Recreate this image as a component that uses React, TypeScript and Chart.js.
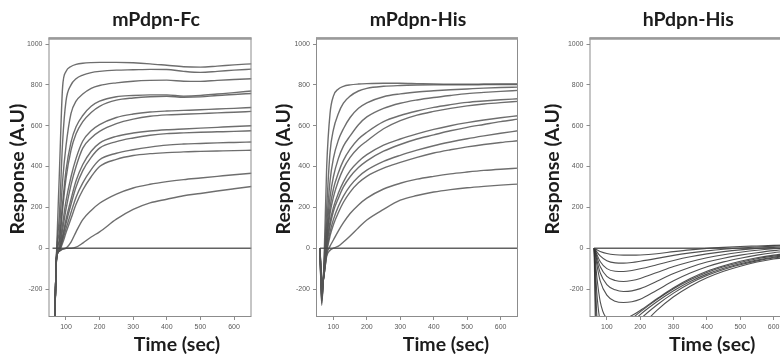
import React, { useEffect, useRef } from 'react';
import { Chart, registerables } from 'chart.js';

Chart.register(...registerables);

// ---------- text ----------
const PANEL_TITLES = ['mPdpn-Fc', 'mPdpn-His', 'hPdpn-His'];
const X_TITLE = 'Time (sec)';
const Y_TITLE = 'Response (A.U)';

// ---------- ticks ----------
const X_TICKS = [100, 200, 300, 400, 500, 600];
const Y_TICKS = [-200, 0, 200, 400, 600, 800, 1000];

// ---------- mPdpn-Fc ----------
const FC_TIME = [66, 72, 80, 90, 100, 115, 130, 150, 175, 200, 250, 300, 350, 400, 450, 500, 550, 600, 652];
const FC_CURVES = [
  [-400, -20, 350, 790, 865, 890, 900, 906, 909, 910, 910, 908, 903, 896, 889, 887, 892, 898, 903],
  [-400, -30, 150, 520, 720, 800, 830, 848, 860, 866, 872, 874, 876, 875, 866, 861, 866, 872, 877],
  [-400, -30, 80, 330, 500, 660, 720, 755, 783, 797, 810, 818, 822, 823, 818, 817, 822, 826, 830],
  [-400, -35, 40, 220, 380, 520, 595, 650, 695, 720, 742, 748, 751, 751, 745, 748, 755, 762, 770],
  [-400, -35, 30, 190, 340, 480, 560, 620, 665, 695, 725, 736, 742, 744, 739, 741, 748, 753, 758],
  [-400, -40, 10, 120, 230, 350, 440, 525, 575, 605, 640, 657, 667, 672, 675, 678, 682, 685, 689],
  [-400, -40, 0, 90, 190, 310, 400, 490, 540, 572, 610, 632, 646, 653, 656, 659, 663, 666, 670],
  [-400, -45, -5, 60, 140, 240, 330, 410, 475, 515, 548, 564, 574, 580, 584, 588, 592, 596, 600],
  [-400, -45, -10, 50, 120, 215, 300, 380, 445, 490, 522, 540, 553, 561, 565, 568, 570, 572, 575],
  [-400, -45, -10, 40, 95, 175, 250, 320, 385, 433, 465, 482, 495, 505, 510, 513, 516, 518, 520],
  [-400, -50, -15, 25, 75, 145, 215, 285, 350, 400, 435, 454, 463, 468, 472, 474, 476, 478, 480],
  [-400, -50, -15, -5, 0, 30, 80, 140, 185, 220, 265, 295, 313, 326, 336, 344, 352, 360, 367],
  [-400, -50, -15, -5, 0, 0, 5, 25, 55, 80, 142, 190, 222, 240, 257, 268, 280, 291, 302],
];
const FC_BASE_TIME = [60, 470, 652];
const FC_BASE = [0, 0, 0];

// ---------- mPdpn-His ----------
const MH_TIME = [60, 65, 72, 80, 90, 100, 115, 130, 150, 175, 200, 250, 300, 350, 400, 450, 500, 550, 600, 652];
const MH_CURVES = [
  [0, -280, -60, 400, 660, 745, 780, 793, 800, 804, 806, 808, 808, 806, 804, 803, 803, 804, 805, 805],
  [0, -270, -80, 200, 470, 580, 660, 710, 745, 770, 783, 793, 797, 799, 800, 800, 800, 801, 802, 802],
  [0, -260, -90, 120, 330, 440, 530, 585, 640, 685, 712, 742, 756, 765, 771, 776, 780, 784, 787, 789],
  [0, -250, -100, 80, 250, 350, 440, 500, 550, 605, 643, 685, 710, 726, 738, 748, 757, 763, 768, 773],
  [0, -240, -110, 50, 200, 290, 370, 430, 485, 535, 568, 620, 650, 672, 690, 703, 714, 721, 727, 732],
  [0, -230, -110, 40, 170, 250, 330, 390, 445, 492, 525, 585, 625, 652, 670, 685, 697, 706, 713, 719],
  [0, -220, -120, 20, 130, 200, 270, 325, 380, 425, 458, 505, 535, 560, 582, 600, 615, 628, 639, 649],
  [0, -210, -120, 10, 110, 180, 245, 300, 350, 395, 428, 475, 508, 535, 555, 575, 592, 606, 620, 632],
  [0, -200, -130, -10, 80, 140, 205, 255, 305, 350, 382, 425, 455, 480, 502, 520, 536, 550, 563, 575],
  [0, -190, -130, -20, 60, 115, 175, 225, 275, 320, 352, 392, 420, 445, 466, 482, 496, 508, 518, 526],
  [0, -180, -130, -30, 10, 40, 85, 125, 170, 212, 245, 290, 318, 338, 352, 364, 373, 381, 387, 392],
  [0, -170, -130, -40, -10, 0, 10, 30, 60, 100, 138, 190, 235, 258, 275, 287, 296, 303, 309, 314],
];
const MH_BASE_TIME = [60, 250, 652];
const MH_BASE = [0, 0, 0];

// ---------- hPdpn-His ----------
const HH_TIME = [62, 66, 70, 80, 100, 125, 150, 175, 200, 250, 300, 350, 400, 450, 500, 550, 600, 660];
const HH_CURVES = [
  [0, -4, -8, -16, -26, -32, -34, -34, -33, -27, -17, -8, -1, 4, 8, 11, 14, 16],
  [0, -8, -18, -38, -62, -72, -73, -70, -64, -50, -35, -23, -13, -5, 1, 6, 10, 13],
  [0, -14, -30, -65, -100, -113, -114, -109, -101, -81, -60, -42, -28, -17, -8, -1, 4, 8],
  [0, -20, -42, -90, -138, -158, -163, -158, -148, -119, -90, -66, -47, -32, -20, -10, -3, 3],
  [0, -28, -58, -120, -178, -204, -212, -209, -198, -162, -124, -93, -68, -49, -34, -22, -12, -4],
  [0, -38, -80, -160, -230, -260, -266, -262, -250, -206, -160, -122, -91, -67, -49, -34, -22, -12],
  [0, -70, -140, -260, -345, -360, -350, -330, -305, -248, -194, -149, -113, -86, -64, -47, -34, -23],
  [0, -110, -220, -360, -420, -410, -380, -345, -312, -252, -199, -155, -119, -91, -70, -52, -39, -28],
  [0, -170, -330, -470, -500, -460, -410, -365, -325, -262, -208, -163, -127, -98, -76, -58, -44, -33],
  [0, -260, -470, -590, -570, -510, -450, -395, -348, -278, -220, -172, -134, -104, -81, -62, -48, -37],
  [0, -420, -680, -760, -690, -600, -520, -450, -392, -305, -238, -186, -145, -113, -88, -68, -53, -41],
];
const HH_BASE_TIME = [62, 440, 660];
const HH_BASE = [0, 0, 0];

// ---------- layout (positions only) ----------
const X_MIN = 48;
const X_MAX = 652;
const Y_MIN = -337;
const Y_MAX = 1032;

type PanelLayout = {
  left: number; width: number; plotLeft: number; plotRight: number;
  titleDx: number; xTitleDx: number; yTitleGap: number;
};
const LAYOUTS: PanelLayout[] = [
  { left: 0, width: 260, plotLeft: 48.5, plotRight: 251.5, titleDx: 6, xTitleDx: 27, yTitleGap: 30.5 },
  { left: 260, width: 270, plotLeft: 316, plotRight: 518, titleDx: 1, xTitleDx: 29, yTitleGap: 32 },
  { left: 530, width: 270, plotLeft: 589.5, plotRight: 791, titleDx: -2, xTitleDx: 22, yTitleGap: 36.5 },
];
const PLOT_TOP = 37.5;
const PLOT_BOTTOM = 317;
const H = 363;

const toPoints = (t: number[], v: number[]) => t.map((x, i) => ({ x, y: v[i] }));

const framePlugin = {
  id: 'frame',
  afterDatasetsDraw(chart: any) {
    const { ctx, chartArea: a } = chart;
    ctx.save();
    ctx.strokeStyle = '#8c8c8c';
    ctx.lineWidth = 1;
    ctx.strokeRect(a.left + 0.5, a.top + 0.5, a.right - a.left - 1, a.bottom - a.top - 1);
    ctx.strokeStyle = '#9a9a9a';
    ctx.lineWidth = 2.5;
    ctx.beginPath();
    ctx.moveTo(a.left, a.top + 1);
    ctx.lineTo(a.right, a.top + 1);
    ctx.stroke();
    ctx.restore();
  },
};

const textPlugin = {
  id: 'panelText',
  afterDraw(chart: any, _args: any, opts: any) {
    const { ctx, chartArea: a } = chart;
    const cx = (a.left + a.right) / 2;
    ctx.save();
    ctx.fillStyle = '#1c1c1c';
    ctx.font = 'bold 19.5px Lato';
    ctx.textAlign = 'center';
    ctx.textBaseline = 'middle';
    ctx.fillText(opts.title, cx + opts.titleDx, 20);
    ctx.fillText(opts.xTitle, cx + opts.xTitleDx, 345);
    ctx.translate(a.left - opts.yTitleGap, 169);
    ctx.rotate(-Math.PI / 2);
    ctx.fillText(opts.yTitle, 0, 0);
    ctx.restore();
  },
};

function Panel({ idx, time, curves, baseTime, base, color, lw }: any) {
  const ref = useRef<HTMLCanvasElement>(null);
  const L = LAYOUTS[idx];
  useEffect(() => {
    if (!ref.current) return;
    const datasets: any[] = [
      {
        data: toPoints(baseTime, base),
        borderColor: 'rgba(70,70,70,0.85)',
        borderWidth: 1.4,
        pointRadius: 0,
      },
      ...curves.map((c: number[]) => ({
        data: toPoints(time, c),
        borderColor: color,
        borderWidth: lw,
        pointRadius: 0,
        cubicInterpolationMode: 'monotone',
      })),
    ];
    const chart = new Chart(ref.current, {
      type: 'line',
      data: { datasets },
      options: {
        animation: false,
        responsive: false,
        events: [],
        layout: {
          padding: { top: PLOT_TOP, left: 0, bottom: 0, right: L.width - (L.plotRight - L.left) },
        },
        plugins: {
          legend: { display: false },
          tooltip: { enabled: false },
          panelText: {
            title: PANEL_TITLES[idx],
            xTitle: X_TITLE,
            yTitle: Y_TITLE,
            titleDx: L.titleDx,
            xTitleDx: L.xTitleDx,
            yTitleGap: L.yTitleGap,
          },
        } as any,
        scales: {
          x: {
            type: 'linear',
            min: X_MIN,
            max: X_MAX,
            afterBuildTicks: (s: any) => { s.ticks = X_TICKS.map((value) => ({ value })); },
            afterFit: (s: any) => { s.height = H - PLOT_BOTTOM; },
            grid: { display: true, drawOnChartArea: false, drawTicks: true, tickLength: 3, color: '#8c8c8c' },
            border: { display: false },
            ticks: {
              color: '#5a5a5a',
              font: { size: 7, family: 'Liberation Sans' },
              padding: 3,
              maxRotation: 0,
              callback: (v: any) => String(v),
            },
          },
          y: {
            type: 'linear',
            min: Y_MIN,
            max: Y_MAX,
            afterBuildTicks: (s: any) => { s.ticks = Y_TICKS.map((value) => ({ value })); },
            afterFit: (s: any) => { s.width = L.plotLeft - L.left; },
            grid: { display: true, drawOnChartArea: false, drawTicks: true, tickLength: 3, color: '#8c8c8c' },
            border: { display: false },
            ticks: {
              color: '#5a5a5a',
              font: { size: 7, family: 'Liberation Sans' },
              padding: 3,
              callback: (v: any) => String(v),
            },
          },
        },
      },
      plugins: [framePlugin, textPlugin],
    } as any);
    return () => chart.destroy();
  }, []);
  return (
    <canvas
      ref={ref}
      width={L.width}
      height={H}
      style={{ position: 'absolute', left: L.left, top: 0, width: L.width, height: H }}
    />
  );
}

export default function App() {
  return (
    <div
      style={{
        position: 'absolute',
        left: 0,
        top: 0,
        width: 780,
        height: 363,
        overflow: 'hidden',
        background: '#fff',
      }}
    >
      <Panel idx={0} time={FC_TIME} curves={FC_CURVES} baseTime={FC_BASE_TIME} base={FC_BASE} color="rgba(85,85,85,0.85)" lw={1.4} />
      <Panel idx={1} time={MH_TIME} curves={MH_CURVES} baseTime={MH_BASE_TIME} base={MH_BASE} color="rgba(85,85,85,0.85)" lw={1.4} />
      <Panel idx={2} time={HH_TIME} curves={HH_CURVES} baseTime={HH_BASE_TIME} base={HH_BASE} color="rgba(50,50,50,0.85)" lw={1.1} />
    </div>
  );
}
